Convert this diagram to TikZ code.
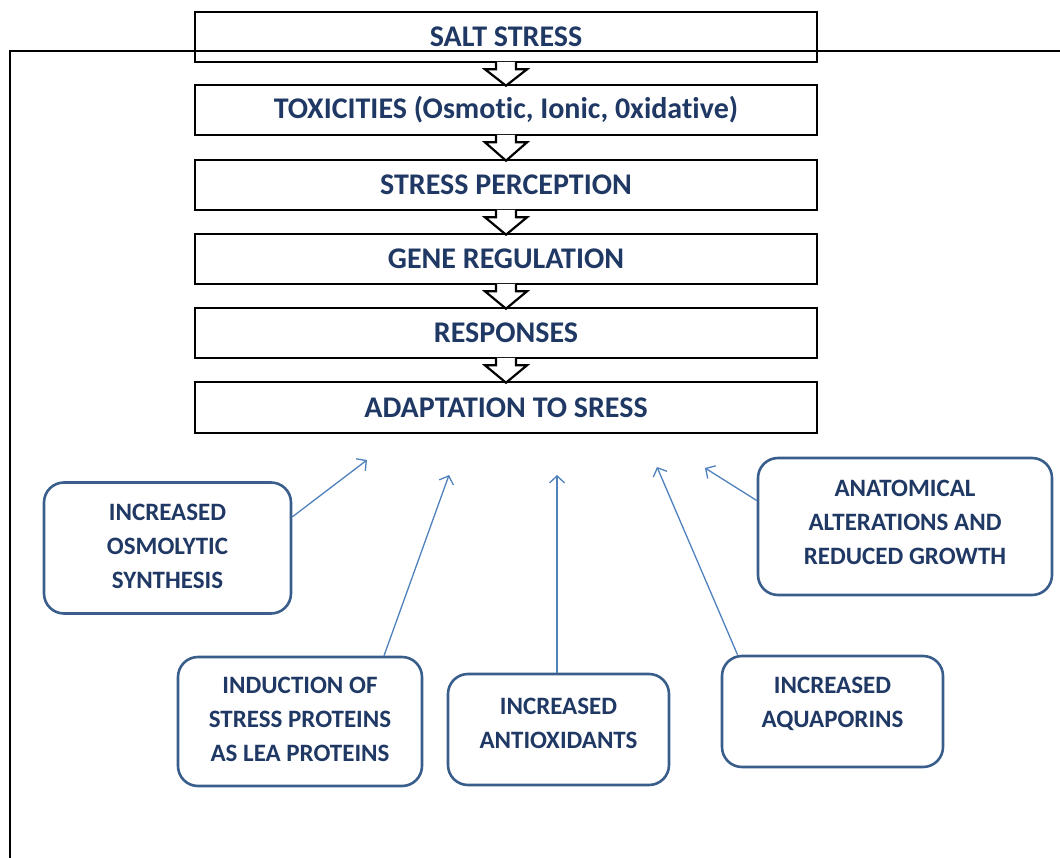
\documentclass[tikz,border=0pt]{standalone}
\usepackage{fontspec}
\setmainfont[Ligatures={NoCommon}]{Carlito}
\usetikzlibrary{arrows.meta,calc}
\definecolor{txt}{RGB}{31,56,100}
\definecolor{rbord}{RGB}{58,94,140}
\definecolor{arr}{RGB}{79,129,189}
\begin{document}
\begin{tikzpicture}[x=1pt,y=-1pt,
  mainbox/.style={draw=black,line width=2.6pt,minimum width=622pt,minimum height=50pt,inner sep=0pt,
    font=\fontsize{30}{34}\selectfont\bfseries,text=txt},
  rbox/.style={draw=rbord,line width=2.6pt,rounded corners=20pt,inner sep=0pt},
  rtext/.style={align=center,font=\fontsize{25}{34}\selectfont\bfseries,text=txt,inner sep=0pt},
  blockarr/.style={draw=black,fill=white,line width=2.2pt,line join=miter},
  conn/.style={draw=arr,line width=1.3pt,-{Straight Barb[length=7pt,width=15pt]}}]
\useasboundingbox (0,0) rectangle (1060,858);
% main chain
\node[mainbox] (salt)  at (506,37)    {SALT STRESS};
\node[mainbox] (tox)   at (506,110)   {TOXICITIES (Osmotic, Ionic, 0xidative)};
\node[mainbox] (perc)  at (506,185)   {STRESS PERCEPTION};
\node[mainbox] (gene)  at (506,259)   {GENE REGULATION};
\node[mainbox] (resp)  at (506,333)   {RESPONSES};
\node[mainbox,minimum height=51pt] (adapt) at (506,407.5) {ADAPTATION TO SRESS};
% outer frame
\draw[line width=2pt] (10,858) -- (10,51) -- (1060,51);
% block arrows
\newcommand\blockarrow[2]{%
  \draw[blockarr] ($(#1.south)+(-10,-1.5)$) -- ($(#1.south)+(-10,6)$) -- ($(#1.south)+(-21,6)$)
    -- ($(#2.north)+(0,2)$) -- ($(#1.south)+(21,6)$) -- ($(#1.south)+(10,6)$) -- ($(#1.south)+(10,-1.5)$);}
\blockarrow{salt}{tox}
\blockarrow{tox}{perc}
\blockarrow{perc}{gene}
\blockarrow{gene}{resp}
\blockarrow{resp}{adapt}
% rounded boxes
\node[rbox,minimum width=247pt,minimum height=131pt] (osmo) at (167.5,548) {};
\node[rtext] (osmoT) at (167.5,546) {INCREASED\\OSMOLYTIC\\SYNTHESIS};
\node[rbox,minimum width=294pt,minimum height=137pt] (anat) at (905,526.5) {};
\node[rtext] (anatT) at (905,522) {ANATOMICAL\\ALTERATIONS AND\\REDUCED GROWTH};
\node[rbox,minimum width=244pt,minimum height=129pt] (induc) at (300,721.5) {};
\node[rtext] (inducT) at (300,719) {INDUCTION OF\\STRESS PROTEINS\\AS LEA PROTEINS};
\node[rbox,minimum width=221pt,minimum height=111pt] (antiox) at (558.5,729.5) {};
\node[rtext] (antioxT) at (558.5,723) {INCREASED\\ANTIOXIDANTS};
\node[rbox,minimum width=221pt,minimum height=111pt] (aquap) at (832.5,711.5) {};
\node[rtext] (aquapT) at (832.5,704) {INCREASED\\AQUAPORINS};
% arrow targets
\coordinate (t1) at (367,460);
\coordinate (t2) at (449,475);
\coordinate (t3) at (557,475);
\coordinate (t4) at (657,467);
\coordinate (t5) at (705,468);
\draw[conn] (osmo.14) -- (t1);
\draw[conn] ($(induc.north)+(84,0)$) -- (t2);
\draw[conn] ($(antiox.north)+(-1.5,0)$) -- (t3);
\draw[conn] ($(aquap.north)+(-95,0)$) -- (t4);
\draw[conn] ($(anat.west)+(0,-26)$) -- (t5);
\end{tikzpicture}
\end{document}
